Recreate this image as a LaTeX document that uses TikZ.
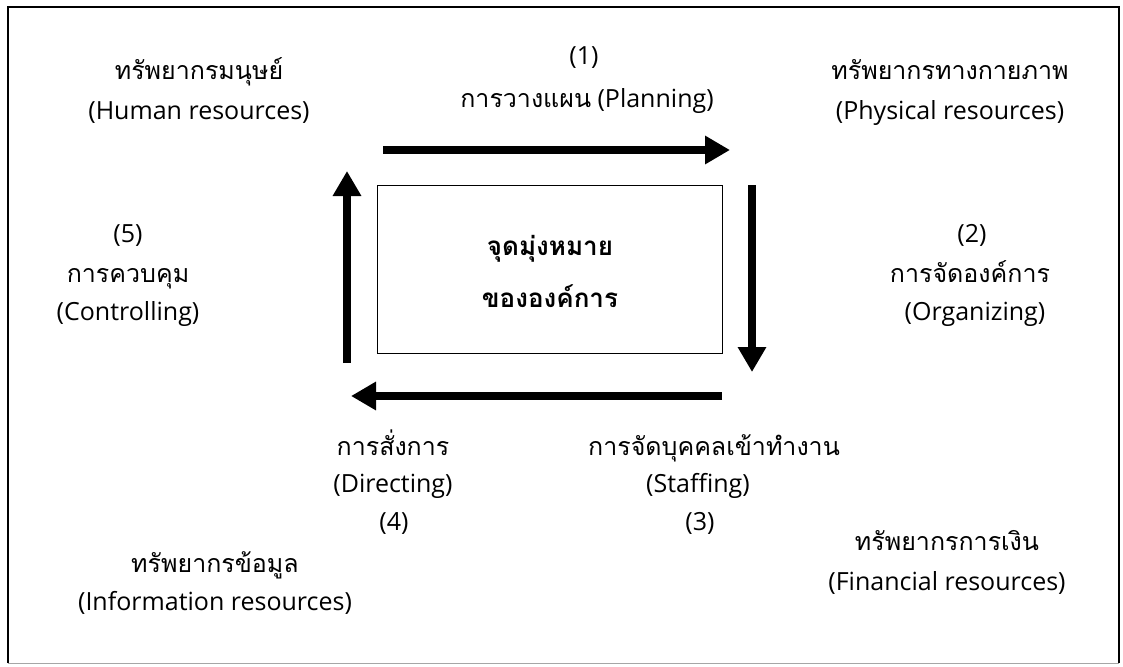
\documentclass[tikz,border=0pt]{standalone}
\usepackage{fontspec}
\setmainfont{Open Sans}
\newfontfamily\thai[Script=Thai]{Loma}
\usetikzlibrary{arrows.meta}
\tikzset{
  lbl/.style={anchor=base, inner sep=0pt, font=\fontsize{25}{29}\selectfont},
  th/.style={anchor=base, inner sep=0pt, font=\fontsize{25}{29}\selectfont\thai},
  thb/.style={anchor=base, inner sep=0pt, font=\fontsize{26}{30}\selectfont\thai\bfseries},
  bigarrow/.style={line width=8pt, -{Triangle[width=27pt,length=25pt]}},
  goalbox/.style={draw, line width=1.3pt},
}
\begin{document}
\begin{tikzpicture}[x=1pt,y=-1pt]
\useasboundingbox (0,0) rectangle (1123,666);
\draw[line width=0.8pt, black!35] (8,663) -- (1119,663);
\draw[line width=2.6pt] (8,663) -- (8,7) -- (1119,7) -- (1119,663);
% central box
\node[goalbox, minimum width=345pt, minimum height=168pt, anchor=north west] (goal) at (377,185) {};
\node[thb] (g1) at (550,255) {จุดมุ่งหมาย};
\node[thb] (g2) at (550,307) {ขององค์การ};
% arrow coordinates
\coordinate (tS) at (383,150); \coordinate (tE) at (730,150);
\coordinate (rS) at (752,185); \coordinate (rE) at (752,372);
\coordinate (bS) at (722,396); \coordinate (bE) at (351,396);
\coordinate (lS) at (347,363); \coordinate (lE) at (347,171);
\draw[bigarrow] (tS) -- (tE);
\draw[bigarrow] (rS) -- (rE);
\draw[bigarrow] (bS) -- (bE);
\draw[bigarrow] (lS) -- (lE);
% Human resources
\node[th] (hr1) at (199,80) {ทรัพยากรมนุษย์};
\node[lbl] (hr2) at (199,119) {(Human resources)};
% Planning
\node[lbl] (p1) at (584,65) {(1)};
\node[lbl] (p2) at (587,107) {{\thai การวางแผน} (Planning)};
% Physical
\node[th] (ph1) at (950,80) {ทรัพยากรทางกายภาพ};
\node[lbl] (ph2) at (950,120) {(Physical resources)};
% Controlling
\node[lbl] (c1) at (128,242) {(5)};
\node[th] (c2) at (128,282) {การควบคุม};
\node[lbl] (c3) at (128,320) {(Controlling)};
% Organizing
\node[lbl] (o1) at (972,242) {(2)};
\node[th] (o2) at (970,282) {การจัดองค์การ};
\node[lbl] (o3) at (975,320) {(Organizing)};
% Directing
\node[th] (d1) at (393,455) {การสั่งการ};
\node[lbl] (d2) at (393,492) {(Directing)};
\node[lbl] (d3) at (394,530) {(4)};
% Staffing
\node[th] (s1) at (714,455) {การจัดบุคคลเข้าทำงาน};
\node[lbl] (s2) at (698,492) {(Staffing)};
\node[lbl] (s3) at (700,530) {(3)};
% Financial
\node[th] (f1) at (947,550) {ทรัพยากรการเงิน};
\node[lbl] (f2) at (947,590) {(Financial resources)};
% Information
\node[th] (i1) at (215,572) {ทรัพยากรข้อมูล};
\node[lbl] (i2) at (215,610) {(Information resources)};
\end{tikzpicture}
\end{document}
